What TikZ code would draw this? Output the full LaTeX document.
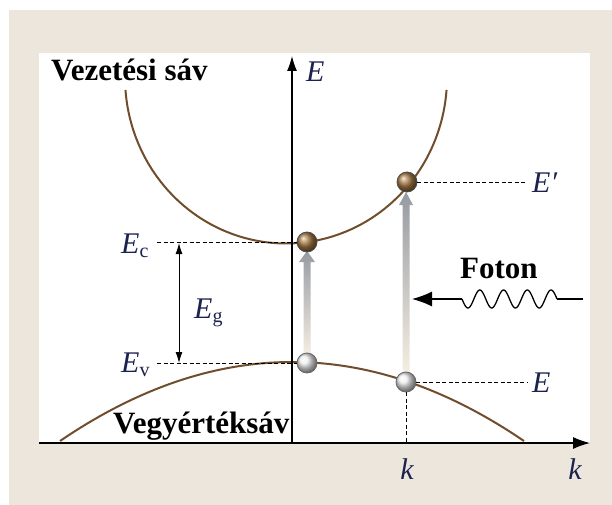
\documentclass[tikz,border=0pt]{standalone}
\usepackage{fontspec}
\setmainfont{Liberation Serif}
\usetikzlibrary{arrows.meta}
\definecolor{beige}{RGB}{237,230,220}
\definecolor{bandbrown}{RGB}{112,78,45}
\definecolor{lblue}{RGB}{28,34,80}
\definecolor{ballbrown}{RGB}{165,122,68}
\definecolor{arrowgray}{RGB}{150,155,162}
\definecolor{arrowlight}{RGB}{246,238,226}
\newcommand\sbs[1]{\raisebox{-4.5pt}{\fontsize{20}{20}\selectfont\upshape #1}}
\begin{document}
\begin{tikzpicture}[x=1pt,y=-1pt,
  band/.style={draw=bandbrown,line width=2pt},
  axisline/.style={draw=black,line width=1.2pt},
  dline/.style={draw=black,line width=1pt,dash pattern=on 4pt off 2.5pt},
  bball/.style={circle,minimum size=20pt,inner sep=0pt,ball color=ballbrown,draw=black!70,line width=0.8pt},
  wball/.style={circle,minimum size=20pt,inner sep=0pt,ball color=gray!12,draw=black!60,line width=0.8pt},
  boldlbl/.style={font=\fontsize{31}{36}\selectfont\bfseries,inner sep=0pt,anchor=base west},
  mlbl/.style={font=\fontsize{30}{34}\selectfont\itshape,text=lblue,inner sep=0pt,anchor=base west},
  gradarrow/.style={top color=arrowgray,bottom color=arrowlight}
]
\useasboundingbox (0,0) rectangle (612,505);
\fill[white] (0,0) rectangle (612,505);
\fill[beige] (9,10) rectangle (612,505);
\fill[white] (39,53) rectangle (590,443);

% bands
\draw[band] plot[domain=4.3:175.7,samples=90] ({286+161*cos(\x)},{77.5+166*sin(\x)});
\draw[band] plot[domain=60:524,samples=70] (\x,{362+79*((\x-292)/232)^2});

% axes
\coordinate (O) at (292,443);
\coordinate (Etip) at (292,56);
\coordinate (kstart) at (39,443);
\coordinate (ktip) at (590,443);
\draw[axisline,-{Latex[length=15pt,width=10pt]}] (O) -- (Etip);
\draw[axisline,-{Latex[length=17pt,width=12pt]}] (kstart) -- (ktip);

% gradient arrows
\shade[gradarrow] (303.5,356) -- (303.5,262) -- (299,262) -- (307,251) -- (315,262) -- (310.5,262) -- (310.5,356) -- cycle;
\shade[gradarrow] (402.5,374) -- (402.5,205) -- (399,205) -- (406,192) -- (413,205) -- (409.5,205) -- (409.5,374) -- cycle;

% dashed guide coordinates
\coordinate (ecs) at (157,242);
\coordinate (evs) at (157,363);
\coordinate (epe) at (527,182);
\coordinate (ee) at (527,382);

% balls
\node[bball] (c1) at (307,242) {};
\node[bball] (c2) at (407,182) {};
\node[wball] (v1) at (307,363) {};
\node[wball] (v2) at (406,382) {};

\draw[dline] (ecs) -- (c1);
\draw[dline] (evs) -- (v1);
\draw[dline] (c2) -- (epe);
\draw[dline] (v2) -- (ee);
\draw[dline] (v2) -- (v2 |- O);

% band gap arrow
\coordinate (eg1) at (179,243);
\coordinate (eg2) at (179,363);
\draw[line width=1pt,{Latex[length=11pt,width=7pt]}-{Latex[length=11pt,width=7pt]}] (eg1) -- (eg2);

% photon
\coordinate (ph0) at (583,299);
\coordinate (ph1) at (557,299);
\coordinate (ph2) at (462,299);
\coordinate (phtip) at (412,299);
\draw[line width=1.3pt] (ph0) -- (ph1);
\draw[line width=1.3pt] plot[domain=0:95,samples=120] ({462+\x},{299+9*sin(\x/23.75*360)});
\draw[line width=1.3pt,-{Latex[length=20pt,width=15pt]}] (ph2) -- (phtip);

% labels
\node[boldlbl] (vez) at (51,81) {Vezetési sáv};
\node[boldlbl] (vegy) at (113,433) {Vegyértéksáv};
\node[boldlbl] (foton) at (460,278) {Foton};
\node[mlbl] (Elab) at (306,82) {E};
\node[mlbl] (Ec) at (121,253) {E\sbs{c}};
\node[mlbl] (Ev) at (121,372) {E\sbs{v}};
\node[mlbl] (Eg) at (194,318) {E\sbs{g}};
\node[mlbl] (Ep) at (532,192) {E′};
\node[mlbl] (Ee) at (532,392) {E};
\node[mlbl,anchor=base] (k1) at (407,479) {k};
\node[mlbl,anchor=base] (k2) at (575,479) {k};
\end{tikzpicture}
\end{document}
